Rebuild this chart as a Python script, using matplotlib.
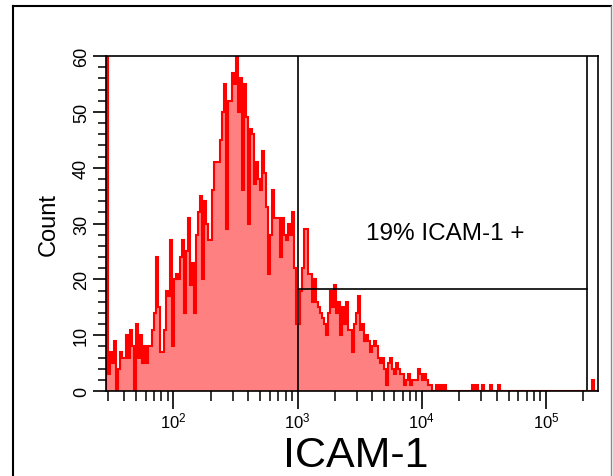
import numpy as np
import matplotlib
matplotlib.use("Agg")
import matplotlib.pyplot as plt
from matplotlib.lines import Line2D
from matplotlib.ticker import LogLocator, NullFormatter, MultipleLocator

plt.rcParams['font.family'] = ['Liberation Sans', 'DejaVu Sans']

# histogram channels (log spaced), counts
n_channels = 246
log_lo, log_hi = 1.458, 5.4185

counts_main = [
    75, 3, 7, 5, 9, 0, 4, 7, 6, 6, 10, 6, 11, 8, 0, 12, 6, 10, 5, 8,
    5, 8, 8, 11, 14, 24, 15, 7, 7, 11, 18, 17, 27, 8, 20, 21, 20, 24, 27, 14,
    25, 31, 19, 23, 14, 28, 32, 35, 20, 34, 30, 27, 27, 36, 41, 41, 41, 45, 50, 55,
    29, 52, 52, 57, 55, 60, 50, 56, 36, 55, 49, 30, 47, 46, 37, 41, 38, 36, 43, 39,
    33, 21, 28, 36, 31, 31, 31, 24, 31, 28, 27, 30, 28, 32, 22, 12, 12, 18, 22, 29,
    29, 21, 21, 16, 20, 16, 15, 14, 13, 12, 10, 14, 18, 15, 19, 14, 16, 10, 15, 12,
    16, 11, 11, 7, 12, 14, 17, 11, 12, 9, 10, 9, 7, 8, 9, 8, 6, 5, 6, 4,
    1, 5, 6, 4, 3, 5, 4, 3, 3, 1, 2, 3, 1, 2, 2, 2, 4, 3, 2, 3,
    2, 1, 1, 0, 0, 1, 0, 1, 0, 1,
]
# sparse high events: channel -> count
tail_channels = [183, 185, 188, 192, 196, 243]
tail_counts = [1, 1, 1, 1, 1, 2]

gate_low = 1000
gate_high = 214000
gate_level = 18.3
gate_text = "19% ICAM-1 +"

counts = np.zeros(n_channels)
counts[:len(counts_main)] = counts_main
counts[tail_channels] = tail_counts
edges = np.logspace(log_lo, log_hi, n_channels + 1)

fig = plt.figure(figsize=(6.13, 4.77), dpi=100)
ax = fig.add_axes([106 / 613, 85 / 477, 492 / 613, 335 / 477])

ax.stairs(counts, edges, fill=True, color='#ff8080', lw=0)
ax.stairs(counts, edges, color='#ff0000', lw=1.5)

# gate
ax.plot([gate_low, gate_low], [0, 60], color='black', lw=1.2)
ax.plot([gate_high, gate_high], [0, 60], color='black', lw=1.2)
ax.plot([gate_low, gate_high], [gate_level, gate_level], color='black', lw=1.2)
ax.text(0.689, 0.4537, gate_text, transform=ax.transAxes, ha='center',
        va='baseline', fontsize=17.5)

ax.set_xscale('log')
ax.set_xlim(10 ** log_lo, 10 ** log_hi)
ax.set_ylim(0, 60)

ax.xaxis.set_major_locator(LogLocator(base=10, numticks=10))
ax.xaxis.set_minor_locator(LogLocator(base=10, subs=np.arange(2, 10), numticks=20))
ax.xaxis.set_minor_formatter(NullFormatter())
ax.yaxis.set_major_locator(MultipleLocator(10))
ax.yaxis.set_minor_locator(MultipleLocator(2))

ax.tick_params(axis='x', which='major', length=13, width=1.2, labelsize=12, pad=1)
ax.tick_params(axis='x', which='minor', length=7, width=1.1)
ax.tick_params(axis='y', which='major', length=9.5, width=1.2, labelsize=13,
               labelrotation=90, pad=2)
ax.tick_params(axis='y', which='minor', length=6, width=1.1)
for lab in ax.get_yticklabels():
    lab.set_va('center')

for sp in ax.spines.values():
    sp.set_linewidth(1.2)

ax.set_ylabel('Count', fontsize=17)
ax.yaxis.set_label_coords(-0.0935, 0.5)
ax.set_xlabel('ICAM-1', fontsize=31, va='baseline')
ax.xaxis.set_label_coords(0.508, -0.2239)

# outer frame
fig.add_artist(Line2D([0.0212, 0.0212], [-0.1, 0.9847], transform=fig.transFigure,
                      color='black', lw=1.5))
fig.add_artist(Line2D([0.0212, 0.9967], [0.9847, 0.9847], transform=fig.transFigure,
                      color='black', lw=1.5))
fig.add_artist(Line2D([0.9967, 0.9967], [-0.1, 0.9847], transform=fig.transFigure,
                      color='#888888', lw=1.0))

fig.savefig('out.png', dpi=100)
